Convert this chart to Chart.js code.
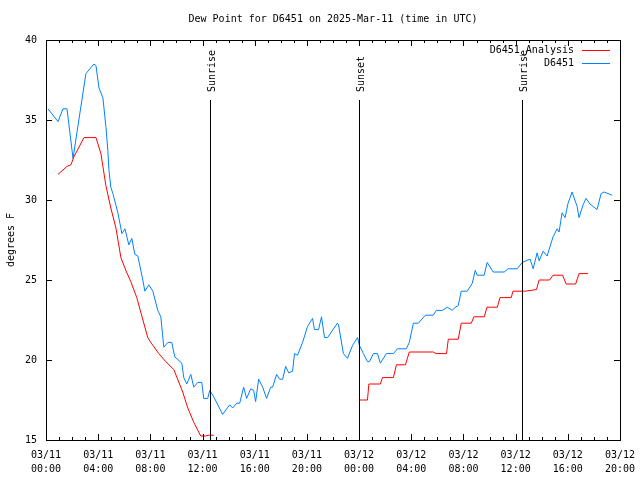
<!DOCTYPE html>
<html>
<head>
<meta charset="utf-8">
<script src="https://cdn.jsdelivr.net/npm/chart.js@4"></script>
<style>
  html, body { margin: 0; padding: 0; background: #fff; }
  #wrap { width: 640px; height: 480px; }
</style>
</head>
<body>
<div id="wrap"><canvas id="dewChart" width="640" height="480"></canvas></div>
<script>
// hours since 03/11 00:00 UTC
const obsHours = [
  0.15, 0.92, 1.3, 1.61, 2.07, 3.06, 3.67, 3.83, 4.06, 4.36, 4.59, 4.74, 4.82, 4.97, 5.13, 5.51,
  5.82, 6.05, 6.35, 6.58, 6.81, 7.04, 7.42, 7.58, 7.88, 8.19, 8.57, 8.8, 9.03, 9.34, 9.64, 9.87,
  10.41, 10.56, 10.79, 11.1, 11.33, 11.63, 11.94, 12.09, 12.4, 12.55, 12.86, 13.54, 14.08, 14.31,
  14.62, 14.85, 15.15, 15.38, 15.69, 15.92, 16.07, 16.3, 16.61, 16.91, 17.22, 17.37, 17.68, 17.91,
  18.14, 18.37, 18.6, 18.9, 19.05, 19.28, 19.67, 20.05, 20.43, 20.58, 20.89, 21.12, 21.35, 21.58,
  22.34, 22.42, 22.8, 23.11, 23.49, 23.88, 24.03, 24.33, 24.64, 24.79, 25.1, 25.41, 25.63, 26.09,
  26.63, 26.94, 27.62, 27.85, 28.16, 28.54, 29.08, 29.69, 29.92, 30.38, 30.76, 31.14, 31.37, 31.6,
  31.83, 32.29, 32.68, 32.9, 33.06, 33.59, 33.82, 34.28, 35.12, 35.43, 36.12, 36.5, 37.11, 37.34,
  37.65, 37.8, 38.11, 38.41, 38.87, 39.18, 39.33, 39.56, 39.79, 40.02, 40.33, 40.71, 40.86, 41.17,
  41.4, 41.7, 42.24, 42.55, 42.78, 43.39
];
const obsDew = [
  35.7, 34.9, 35.7, 35.7, 32.6, 37.9, 38.5, 38.4, 37.0, 36.4, 34.6, 33.1, 31.9, 30.8, 30.4, 29.2,
  27.9, 28.2, 27.2, 27.6, 26.6, 26.5, 25.0, 24.3, 24.7, 24.3, 23.1, 22.7, 20.8, 21.1, 21.1, 20.2,
  19.8, 18.9, 18.5, 19.1, 18.3, 18.6, 18.6, 17.6, 17.6, 18.1, 17.7, 16.6, 17.2, 17.0,
  17.3, 17.3, 18.3, 17.6, 18.2, 18.1, 17.4, 18.8, 18.3, 17.6, 18.3, 18.3, 19.1, 18.8,
  18.8, 19.6, 19.2, 19.3, 20.4, 20.3, 21.1, 22.1, 22.6, 21.9, 21.9, 22.7, 21.4, 21.4,
  22.3, 22.2, 20.4, 20.1, 20.9, 21.4, 20.9, 20.4, 19.9, 19.9, 20.4, 20.4, 19.8, 20.4,
  20.4, 20.7, 20.7, 21.1, 22.3, 22.3, 22.8, 22.8, 23.1, 23.1, 23.3, 23.1, 23.3, 23.4,
  24.3, 24.3, 24.8, 25.6, 25.3, 25.3, 26.1, 25.5, 25.5, 25.7, 25.7, 26.1, 26.3, 25.7,
  26.7, 26.2, 26.8, 26.5, 27.7, 28.2, 28.0, 29.2, 28.9, 29.8, 30.5, 29.6, 28.9, 29.7,
  30.1, 29.75, 29.4, 30.4, 30.5, 30.3
];

const anaHours = [
  0.92, 1.61, 1.91, 2.14, 2.91, 3.44, 3.83, 4.21, 4.59, 4.97, 5.36, 5.74, 6.12, 6.5, 6.96, 7.8,
  8.03, 8.65, 9.18, 9.8, 10.48, 10.87, 11.33, 11.86, 12.24, 12.47, 12.86,
  18.0,
  24.03, 24.64, 24.75, 25.63, 25.79, 26.63, 26.86, 27.55, 27.85, 29.69, 29.9, 30.7, 30.84, 31.6,
  31.83, 32.6, 32.8, 33.6, 33.8, 34.6, 34.8, 35.66, 35.8, 36.7, 37.6, 37.8, 38.6, 38.87, 39.6,
  39.87, 40.6, 40.86, 41.55
];
const anaDew = [
  31.6, 32.1, 32.2, 32.7, 33.9, 33.9, 33.9, 32.9, 30.9, 29.5, 28.25, 26.4, 25.6, 24.9, 23.9, 21.4,
  21.1, 20.4, 19.9, 19.4, 18.0, 17.0, 16.1, 15.25, 15.25, 15.3, 15.3,
  null,
  17.5, 17.5, 18.5, 18.5, 18.9, 18.9, 19.7, 19.7, 20.5, 20.5, 20.4, 20.4, 21.3, 21.3,
  22.3, 22.3, 22.7, 22.7, 23.3, 23.3, 23.9, 23.9, 24.3, 24.3, 24.4, 25.0, 25.0, 25.3, 25.3,
  24.75, 24.75, 25.4, 25.4
];

const sunEvents = [
  { label: "Sunrise", hour: 12.55 },
  { label: "Sunset", hour: 24.03 },
  { label: "Sunrise", hour: 36.5 },
];

const days = ["03/11", "03/12"];
const font = "'DejaVu Sans Mono', monospace";

const frameAndMarks = {
  id: "frameAndMarks",
  afterDatasetsDraw(chart) {
    const { ctx, chartArea: a, scales } = chart;
    const xs = scales.x;
    ctx.save();
    ctx.strokeStyle = "#000";
    ctx.lineWidth = 1;
    // frame
    ctx.strokeRect(Math.round(a.left) + 0.5, Math.round(a.top) + 0.5,
      Math.round(a.right - a.left), Math.round(a.bottom - a.top));
    // x ticks, inward on both sides
    ctx.beginPath();
    for (let h = xs.min; h <= xs.max; h++) {
      const px = Math.round(xs.getPixelForValue(h)) + 0.5;
      const len = h % 4 === 0 ? 6 : 3;
      ctx.moveTo(px, a.bottom); ctx.lineTo(px, a.bottom - len);
      ctx.moveTo(px, a.top); ctx.lineTo(px, a.top + len);
    }
    // y ticks
    const ys = scales.y;
    for (let v = ys.min; v <= ys.max; v += 5) {
      const py = Math.round(ys.getPixelForValue(v)) + 0.5;
      ctx.moveTo(a.left, py); ctx.lineTo(a.left + 6, py);
      ctx.moveTo(a.right, py); ctx.lineTo(a.right - 6, py);
    }
    ctx.stroke();

    // sunrise / sunset markers
    ctx.font = "10px " + font;
    ctx.fillStyle = "#000";
    sunEvents.forEach((ev) => {
      const px = Math.round(xs.getPixelForValue(ev.hour)) + 0.5;
      const topY = a.bottom - 0.85 * (a.bottom - a.top);
      ctx.beginPath();
      ctx.moveTo(px, a.bottom);
      ctx.lineTo(px, topY);
      ctx.stroke();
      ctx.save();
      ctx.translate(px + 4, topY - 8);
      ctx.rotate(-Math.PI / 2);
      ctx.textAlign = "left";
      ctx.textBaseline = "alphabetic";
      ctx.fillText(ev.label, 0, 0);
      ctx.restore();
    });

    // legend
    ctx.textAlign = "right";
    ctx.textBaseline = "middle";
    chart.data.datasets.forEach((ds, i) => {
      const y = a.top + 10 + i * 13;
      ctx.fillStyle = "#000";
      ctx.fillText(ds.label, a.right - 46, y);
      ctx.strokeStyle = ds.borderColor;
      ctx.beginPath();
      ctx.moveTo(a.right - 38, Math.round(y) + 0.5);
      ctx.lineTo(a.right - 10, Math.round(y) + 0.5);
      ctx.stroke();
    });

    // title and y label
    ctx.fillStyle = "#000";
    ctx.textAlign = "center";
    ctx.fillText("Dew Point for D6451 on 2025-Mar-11 (time in UTC)", (a.left + a.right) / 2, 19);
    ctx.save();
    ctx.translate(11, (a.top + a.bottom) / 2);
    ctx.rotate(-Math.PI / 2);
    ctx.fillText("degrees F", 0, 0);
    ctx.restore();
    ctx.restore();
  },
};

new Chart(document.getElementById("dewChart"), {
  type: "line",
  data: {
    datasets: [
      {
        label: "D6451_Analysis",
        data: anaHours.map((h, i) => ({ x: h, y: anaDew[i] })),
        borderColor: "#ff0000",
        borderWidth: 1,
        pointRadius: 0,
        spanGaps: false,
        tension: 0,
      },
      {
        label: "D6451",
        data: obsHours.map((h, i) => ({ x: h, y: obsDew[i] })),
        borderColor: "#0080ff",
        borderWidth: 1,
        pointRadius: 0,
        tension: 0,
      },
    ],
  },
  options: {
    responsive: false,
    animation: false,
    events: [],
    layout: { padding: { top: 40, right: 20, left: 0, bottom: 0 } },
    plugins: { legend: { display: false }, tooltip: { enabled: false } },
    scales: {
      x: {
        type: "linear",
        min: 0,
        max: 44,
        grid: { display: false, drawTicks: false },
        border: { display: false },
        afterFit: (s) => {
          s.height = 40;
          s.paddingLeft = 0;
          s.paddingRight = 0;
        },
        afterBuildTicks: (s) => {
          s.ticks = [];
          for (let h = 0; h <= 44; h += 4) s.ticks.push({ value: h });
        },
        ticks: {
          autoSkip: false,
          maxRotation: 0,
          padding: 8,
          color: "#000",
          font: { family: font, size: 10, lineHeight: 1.4 },
          callback: (v) => {
            const d = days[Math.floor(v / 24)];
            const hh = String(v % 24).padStart(2, "0");
            return [d, hh + ":00"];
          },
        },
      },
      y: {
        min: 15,
        max: 40,
        grid: { display: false, drawTicks: false },
        border: { display: false },
        afterFit: (s) => {
          s.width = 46;
          s.paddingTop = 0;
          s.paddingBottom = 0;
        },
        ticks: {
          stepSize: 5,
          padding: 9,
          color: "#000",
          font: { family: font, size: 10 },
        },
      },
    },
  },
  plugins: [frameAndMarks],
});
</script>
</body>
</html>
